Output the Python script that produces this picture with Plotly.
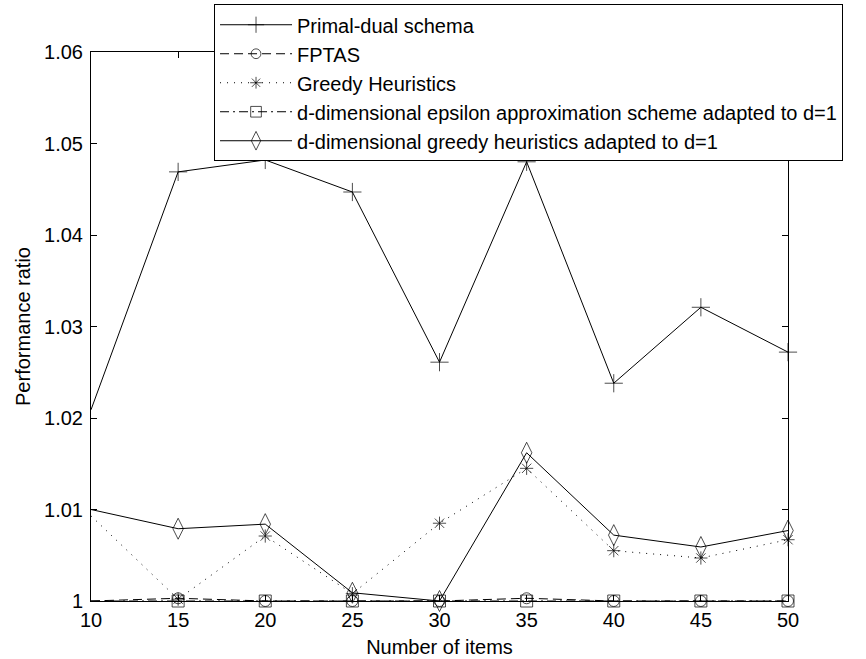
import plotly.graph_objects as go

x_items = [10, 15, 20, 25, 30, 35, 40, 45, 50]
primal_dual = [1.0209, 1.0469, 1.0482, 1.0447, 1.0261, 1.0480, 1.0238, 1.0321, 1.0272]
fptas = [1.0, 1.0003, 1.0, 1.0, 1.0, 1.0003, 1.0, 1.0, 1.0]
greedy = [1.0093, 1.0002, 1.0071, 1.0008, 1.0085, 1.0145, 1.0055, 1.0047, 1.0067]
eps_scheme = [1.0, 1.0, 1.0, 1.0, 1.0, 1.0, 1.0, 1.0, 1.0]
ddim_greedy = [1.0100, 1.0079, 1.0084, 1.0009, 1.0, 1.0162, 1.0072, 1.0059, 1.0077]

names = ["Primal-dual schema", "FPTAS", "Greedy Heuristics",
         "d-dimensional epsilon approximation scheme adapted to d=1",
         "d-dimensional greedy heuristics adapted to d=1"]
x_ticks = [10, 15, 20, 25, 30, 35, 40, 45, 50]
y_ticks = [1.0, 1.01, 1.02, 1.03, 1.04, 1.05, 1.06]
y_ticklabels = ["1", "1.01", "1.02", "1.03", "1.04", "1.05", "1.06"]

FONT = "Arial, Liberation Sans, sans-serif"
FS = 20

series = [
    (primal_dual, "solid", "cross-thin-open", 13),
    (fptas, "9px,5px", "circle-open", 11),
    (greedy, "1px,6px", "asterisk-open", 11),
    (eps_scheme, "9px,4px,2px,4px", "square-open", 12),
    (ddim_greedy, "solid", "diamond-tall-open", 15),
]

fig = go.Figure()
for i, (vals, dash, sym, size) in enumerate(series):
    # markers at the left edge are hidden in the reference
    sizes = [0 if xv == x_items[0] else size for xv in x_items]
    fig.add_trace(go.Scatter(
        x=x_items, y=vals, name=names[i], mode="lines+markers",
        cliponaxis=False,
        line=dict(color="black", width=1, dash=dash),
        marker=dict(symbol=sym, size=sizes, color="black",
                    line=dict(color="black", width=1)),
    ))

axis_common = dict(showline=True, linecolor="black", linewidth=1, mirror="ticks",
                   ticks="inside", ticklen=6, tickcolor="black", showgrid=False,
                   zeroline=False, tickfont=dict(family=FONT, size=FS, color="black"))

fig.update_layout(
    width=866, height=659,
    margin=dict(l=91, r=78, t=52, b=58, autoexpand=False),
    paper_bgcolor="white", plot_bgcolor="white",
    font=dict(family=FONT, size=FS, color="black"),
    xaxis=dict(range=[10, 50], tickvals=x_ticks, ticklabelstandoff=1,
               title=dict(text="Number of items", font=dict(family=FONT, size=FS), standoff=9),
               **axis_common),
    yaxis=dict(range=[1.0, 1.06], tickvals=y_ticks, ticktext=y_ticklabels,
               ticklabelstandoff=3,
               title=dict(text="Performance ratio", font=dict(family=FONT, size=FS), standoff=8),
               **axis_common),
    showlegend=True,
    legend=dict(x=0.1765, y=1.087, xanchor="left", yanchor="top",
                bgcolor="white", bordercolor="black", borderwidth=1,
                font=dict(family=FONT, size=FS, color="black"),
                itemwidth=72),
)

fig.write_html("out.html")
